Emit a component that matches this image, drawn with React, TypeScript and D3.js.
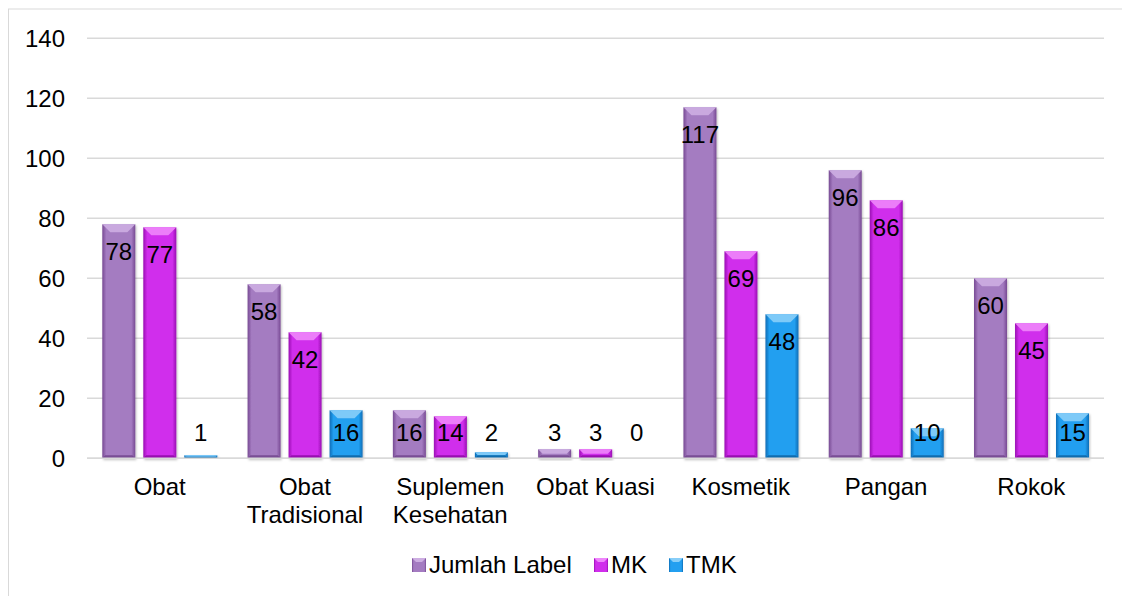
import React from "react";
import * as d3 from "d3";

const categories: string[][] = [
  ["Obat"],
  ["Obat", "Tradisional"],
  ["Suplemen", "Kesehatan"],
  ["Obat Kuasi"],
  ["Kosmetik"],
  ["Pangan"],
  ["Rokok"],
];
const seriesNames = ["Jumlah Label", "MK", "TMK"];
const jumlahLabel = [78, 58, 16, 3, 117, 96, 60];
const mk = [77, 42, 14, 3, 69, 86, 45];
const tmk = [1, 16, 2, 0, 48, 10, 15];
const yTicks = [0, 20, 40, 60, 80, 100, 120, 140];

const seriesValues = [jumlahLabel, mk, tmk];
const palette = [
  { edge: "#774a93", mid: "#a47bc1", top: "#cdaee2", bottom: "#6e4289" },
  { edge: "#9a0fb3", mid: "#d02eec", top: "#ee86fb", bottom: "#8a0aa2" },
  { edge: "#0d6db6", mid: "#239ff0", top: "#88cef8", bottom: "#0b5f9e" },
];

const W = 1122;
const H = 588;
const FONT = "'Liberation Sans', Arial, sans-serif";
const FS = 24;

export default function App() {
  const x = d3
    .scaleBand<number>()
    .domain(d3.range(categories.length))
    .range([79, 1096])
    .padding(0);
  const xs = d3
    .scaleBand<number>()
    .domain([0, 1, 2])
    .range([15.3, 15.3 + 115])
    .paddingInner(8 / 41)
    .paddingOuter(0);
  const y = d3.scaleLinear().domain([0, 140]).range([450.3, 30.3]);
  const bw = xs.bandwidth();
  const labelFloor = 425;

  const legendX = [404, 586, 661];

  return (
    <svg width={W} height={H} style={{ display: "block" }} fontFamily={FONT}>
      <defs>
        {palette.map((p, i) => (
          <linearGradient key={i} id={`g${i}`} x1="0" x2="1" y1="0" y2="0">
            <stop offset="0" stopColor={p.edge} />
            <stop offset="0.12" stopColor={p.mid} />
            <stop offset="0.5" stopColor={p.mid} />
            <stop offset="0.88" stopColor={p.mid} />
            <stop offset="1" stopColor={p.edge} />
          </linearGradient>
        ))}
        <filter id="shadow" x="-20%" y="-20%" width="140%" height="140%">
          <feDropShadow dx="1" dy="1.5" stdDeviation="1.2" floodColor="#000" floodOpacity="0.25" />
        </filter>
      </defs>
      <rect x={0.5} y={1} width={W + 10} height={H + 10} fill="#fff" stroke="#d9d9d9" strokeWidth={1} />
      {yTicks.map((t) => (
        <g key={t}>
          <line x1={79} x2={1096} y1={y(t)} y2={y(t)} stroke="#d9d9d9" strokeWidth={1.6} />
          <text x={57} y={y(t)} dy="0.35em" textAnchor="end" fontSize={FS} fill="#000">
            {t}
          </text>
        </g>
      ))}
      {categories.map((c, ci) => (
        <g key={ci} transform={`translate(${x(ci)},0)`}>
          {seriesValues.map((vals, si) => {
            const v = vals[ci];
            const bx = xs(si)!;
            const top = y(v);
            const h = y(0) - top;
            const p = palette[si];
            const bev = Math.min(8, h / 2);
            const bb = Math.min(3, h / 2);
            return (
              <g key={si}>
                {h > 0 && (
                  <g filter="url(#shadow)">
                    <rect x={bx} y={top} width={bw} height={h} fill={`url(#g${si})`} />
                    <polygon
                      points={`${bx},${top} ${bx + bw},${top} ${bx + bw - bev},${top + bev} ${bx + bev},${top + bev}`}
                      fill={p.top}
                      opacity={0.9}
                    />
                    <polygon
                      points={`${bx},${top + h} ${bx + bw},${top + h} ${bx + bw - bb},${top + h - bb} ${bx + bb},${top + h - bb}`}
                      fill={p.bottom}
                      opacity={0.8}
                    />
                  </g>
                )}
                <text
                  x={bx + bw / 2}
                  y={Math.min(top + 27, labelFloor)}
                  dy="0.35em"
                  textAnchor="middle"
                  fontSize={FS}
                  fill="#000"
                >
                  {v}
                </text>
              </g>
            );
          })}
          {c.map((line, li) => (
            <text
              key={li}
              x={x.bandwidth() / 2}
              y={479 + li * 28}
              dy="0.35em"
              textAnchor="middle"
              fontSize={FS}
              fill="#000"
            >
              {line}
            </text>
          ))}
        </g>
      ))}
      <line x1={79} x2={1096} y1={y(0)} y2={y(0)} stroke="#d9d9d9" strokeWidth={1.6} />
      {seriesNames.map((s, si) => (
        <g key={s} transform={`translate(${legendX[si]},557)`}>
          <rect x={0} y={-7} width={14} height={14} fill={`url(#g${si})`} />
          <polygon points="0,-7 14,-7 10,-3 4,-3" fill={palette[si].top} />
          <text x={17} y={0} dy="0.35em" fontSize={FS} fill="#000">
            {s}
          </text>
        </g>
      ))}
    </svg>
  );
}
